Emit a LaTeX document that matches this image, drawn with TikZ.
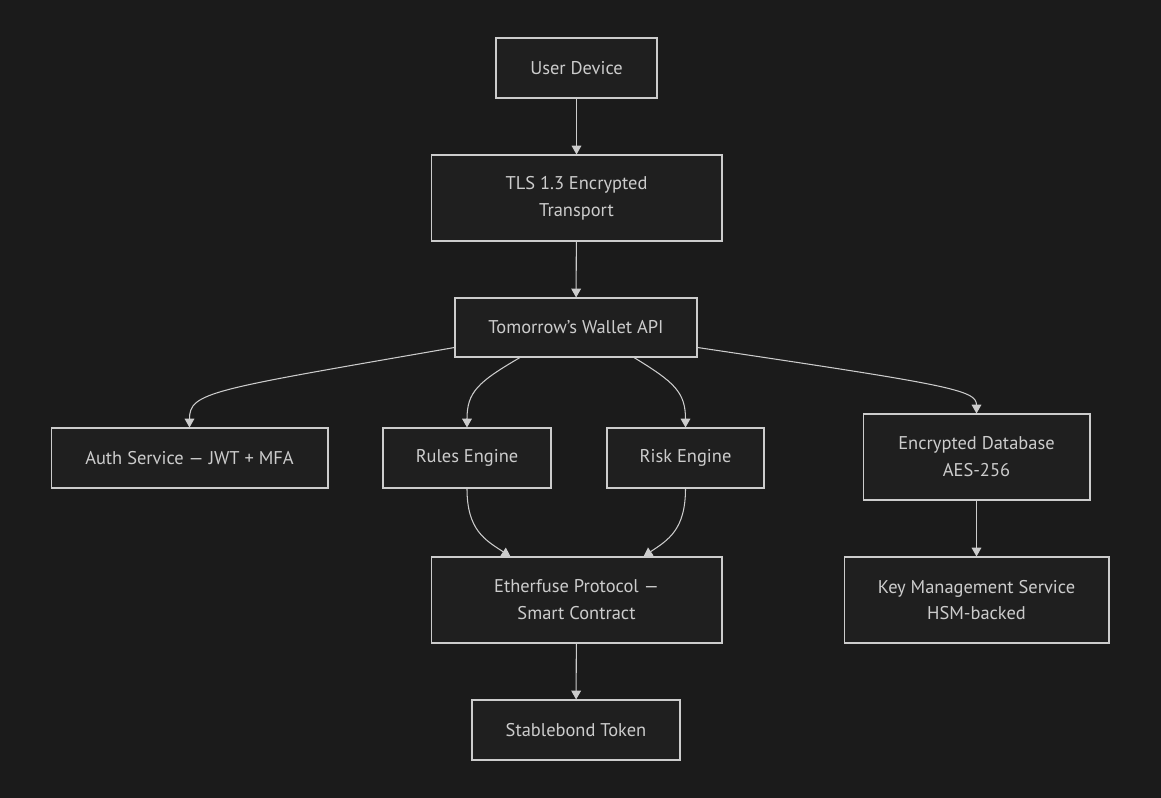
\documentclass[tikz,border=0pt]{standalone}
\usepackage{fontspec}
\setmainfont{PT Sans}
\usetikzlibrary{calc}
\usetikzlibrary{arrows.meta}

\definecolor{bgcol}{HTML}{1B1B1B}
\definecolor{boxcol}{HTML}{1F1F1F}
\definecolor{linecol}{HTML}{CCCCCC}

\tikzset{
  box/.style={draw=linecol,fill=boxcol,line width=0.6pt,text=linecol,
    inner sep=0pt,align=center,font=\fontsize{10.5}{15.3}\selectfont},
  edge/.style={draw=linecol,line width=0.6pt,
    -{Triangle[length=5pt,width=5.5pt]}}
}

\begin{document}
\begin{tikzpicture}[x=0.02cm,y=-0.02cm]
  % Background
  \fill[bgcol] (0,0) rectangle (1161,798);
  \useasboundingbox (0,0) rectangle (1161,798);
  % Boxes
  \node[box,minimum width=3.22cm,minimum height=1.2cm] (user) at (576.5,68) {User Device};
  \node[box,minimum width=5.82cm,minimum height=1.72cm] (tls) at (576.5,198) {TLS 1.3 Encrypted\\Transport};
  \node[box,minimum width=4.84cm,minimum height=1.18cm] (api) at (576,327.5) {Tomorrow's Wallet API};
  \node[box,minimum width=5.54cm,minimum height=1.2cm] (auth) at (189.5,458) {Auth Service — JWT + MFA};
  \node[box,minimum width=3.36cm,minimum height=1.2cm] (rules) at (467,458) {Rules Engine};
  \node[box,minimum width=3.14cm,minimum height=1.2cm] (risk) at (685.5,458) {Risk Engine};
  \node[box,minimum width=4.54cm,minimum height=1.72cm] (encdb) at (976.5,457) {Encrypted Database\\AES-256};
  \node[box,minimum width=5.82cm,minimum height=1.72cm] (ether) at (576.5,600) {Etherfuse Protocol —\\Smart Contract};
  \node[box,minimum width=5.3cm,minimum height=1.72cm] (kms) at (976.5,600) {Key Management Service\\HSM-backed};
  \node[box,minimum width=4.16cm,minimum height=1.2cm] (stable) at (576,730) {Stablebond Token};
  % Straight connectors
  \draw[edge] (user) -- (tls);
  \draw[edge] (tls) -- (api);
  \draw[edge] (encdb) -- (kms);
  \draw[edge] (ether) -- (stable);
  % Curved connectors out of the API
  \draw[edge] ($(api.west)+(0,20)$) .. controls (210,390) and (189.5,392) .. (auth.north);
  \draw[edge] ($(api.south)+(-56,0)$) .. controls (478,382) and (467,392) .. (rules.north);
  \draw[edge] ($(api.south)+(58,0)$) .. controls (674,382) and (685.5,392) .. (risk.north);
  \draw[edge] ($(api.east)+(0,20)$) .. controls (950,385) and (976.5,390) .. (encdb.north);
  % Into the protocol
  \draw[edge] (rules.south) .. controls (467,530) and (485,540) .. ($(ether.north)+(-66,0)$);
  \draw[edge] (risk.south) .. controls (685.5,530) and (668,540) .. ($(ether.north)+(67,0)$);
\end{tikzpicture}
\end{document}
